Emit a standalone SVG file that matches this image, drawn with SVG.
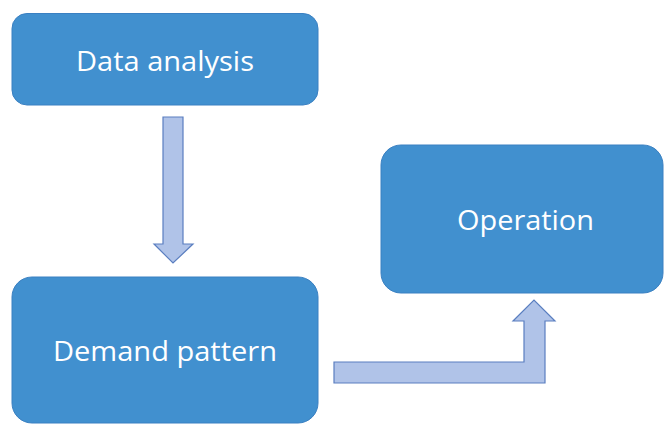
<svg xmlns="http://www.w3.org/2000/svg" width="664" height="424" viewBox="0 0 664 424">
<style>
.box{fill:#4190cf;stroke:#3a80c2;stroke-width:1}
.lbl{font-family:"Open Sans","Liberation Sans",sans-serif;font-size:27.5px;fill:#ffffff;text-anchor:middle}
.arr{fill:#b0c3e8;stroke:#5a7ec0;stroke-width:1.2;stroke-linejoin:miter}
</style>
<rect width="664" height="424" fill="#ffffff"/>
<g id="connectors">
<path class="arr" d="M163,117 H183 V244 H193 L173,263 L154,244 H163 Z"/>
<path class="arr" d="M334,362 H524 V321 H513 L534,300 L555,321 H545 V383 H334 Z"/>
</g>
<g id="data-analysis">
<rect class="box" x="12" y="13.5" width="306" height="91.5" rx="15"/>
<text class="lbl" x="165" y="71" textLength="178" lengthAdjust="spacingAndGlyphs">Data analysis</text>
</g>
<g id="demand-pattern">
<rect class="box" x="12" y="277" width="306" height="146" rx="20"/>
<text class="lbl" x="165" y="361" textLength="224" lengthAdjust="spacingAndGlyphs">Demand pattern</text>
</g>
<g id="operation">
<rect class="box" x="381" y="145" width="282" height="148" rx="20"/>
<text class="lbl" x="525.5" y="230" textLength="137" lengthAdjust="spacingAndGlyphs">Operation</text>
</g>
</svg>
